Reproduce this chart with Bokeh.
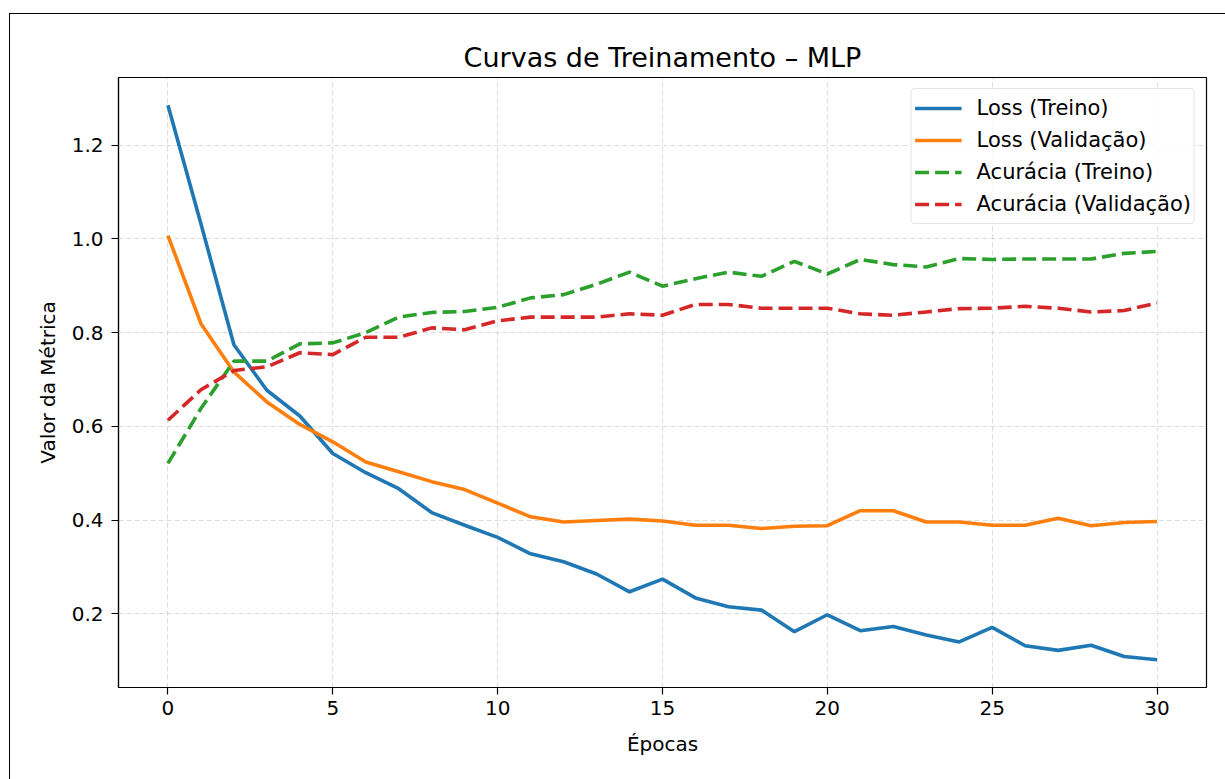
from bokeh.plotting import figure
from bokeh.models import Range1d, FixedTicker, Legend, LegendItem, PrintfTickFormatter, InlineStyleSheet
from bokeh.embed import file_html
from bokeh.resources import INLINE

epochs = list(range(31))
loss_treino = [1.285, 1.032, 0.774, 0.677, 0.622, 0.542, 0.501, 0.467, 0.416, 0.389,
               0.363, 0.328, 0.311, 0.285, 0.247, 0.274, 0.234, 0.215, 0.208, 0.162,
               0.198, 0.164, 0.173, 0.155, 0.140, 0.171, 0.132, 0.122, 0.133, 0.109, 0.102]
loss_val = [1.007, 0.819, 0.716, 0.652, 0.604, 0.567, 0.524, 0.503, 0.482, 0.465,
            0.436, 0.407, 0.396, 0.399, 0.402, 0.398, 0.389, 0.389, 0.382, 0.387,
            0.388, 0.420, 0.420, 0.396, 0.396, 0.389, 0.389, 0.404, 0.388, 0.395, 0.397]
acc_treino = [0.521, 0.638, 0.739, 0.739, 0.776, 0.778, 0.800, 0.833, 0.843, 0.845,
              0.854, 0.874, 0.881, 0.903, 0.929, 0.899, 0.915, 0.929, 0.920, 0.952,
              0.925, 0.956, 0.945, 0.940, 0.958, 0.956, 0.957, 0.957, 0.957, 0.969, 0.973]
acc_val = [0.613, 0.678, 0.719, 0.727, 0.757, 0.753, 0.790, 0.790, 0.810, 0.806,
           0.825, 0.833, 0.833, 0.833, 0.840, 0.837, 0.860, 0.860, 0.852, 0.852,
           0.852, 0.840, 0.837, 0.844, 0.851, 0.852, 0.856, 0.852, 0.844, 0.847, 0.863]

x_ticks = [0, 5, 10, 15, 20, 25, 30]
y_ticks = [0.2, 0.4, 0.6, 0.8, 1.0, 1.2]

FONT = "DejaVu Sans"

allv = loss_treino + loss_val + acc_treino + acc_val
lo, hi = min(allv), max(allv)
span = hi - lo
xspan = max(epochs) - min(epochs)

outer = InlineStyleSheet(css="""
:host::after {
  content: "";
  position: absolute;
  left: 9px; top: 13px; right: -20px; bottom: -20px;
  border: 1px solid #000000;
  pointer-events: none;
}
""")

p = figure(width=1225, height=779, output_backend="svg", toolbar_location=None,
           x_range=Range1d(min(epochs) - 0.05 * xspan, max(epochs) + 0.05 * xspan),
           y_range=Range1d(lo - 0.05 * span, hi + 0.05 * span),
           min_border_left=118, min_border_right=19, min_border_top=77, min_border_bottom=92,
           title="Curvas de Treinamento – MLP", stylesheets=[outer])

p.title.align = "center"
p.title.text_font = FONT
p.title.text_font_size = "27px"
p.title.text_font_style = "normal"
p.title.text_color = "#000000"
p.title.standoff = 9

p.outline_line_color = "#000000"
p.outline_line_width = 1.2
p.outline_line_alpha = 1.0

for ax in (p.xaxis[0], p.yaxis[0]):
    ax.axis_line_color = "#000000"
    ax.axis_line_width = 1.2
    ax.major_tick_line_color = "#000000"
    ax.major_tick_line_width = 1.2
    ax.major_tick_out = 7
    ax.major_tick_in = 0
    ax.minor_tick_line_color = None
    ax.major_label_text_font = FONT
    ax.major_label_text_font_size = "20px"
    ax.major_label_text_color = "#000000"
    ax.axis_label_text_font = FONT
    ax.axis_label_text_font_size = "20px"
    ax.axis_label_text_font_style = "normal"
    ax.axis_label_text_color = "#000000"

p.xaxis.ticker = FixedTicker(ticks=x_ticks)
p.yaxis.ticker = FixedTicker(ticks=y_ticks)
p.yaxis.formatter = PrintfTickFormatter(format="%.1f")
p.xaxis.axis_label = "Épocas"
p.yaxis.axis_label = "Valor da Métrica"
p.xaxis.major_label_standoff = 6
p.yaxis.major_label_standoff = 8
p.xaxis.axis_label_standoff = 14
p.yaxis.axis_label_standoff = 9

for g in (p.xgrid[0], p.ygrid[0]):
    g.grid_line_color = "#cfcfcf"
    g.grid_line_alpha = 0.7
    g.grid_line_dash = "5 3"
    g.grid_line_width = 1.1

r1 = p.line(epochs, loss_treino, line_color="#1f77b4", line_width=3.6)
r2 = p.line(epochs, loss_val, line_color="#ff7f0e", line_width=3.6)
r3 = p.line(epochs, acc_treino, line_color="#2ca02c", line_width=3.6, line_dash="14 6")
r4 = p.line(epochs, acc_val, line_color="#d62728", line_width=3.6, line_dash="14 6")

legend = Legend(items=[
    LegendItem(label="Loss (Treino)", renderers=[r1]),
    LegendItem(label="Loss (Validação)", renderers=[r2]),
    LegendItem(label="Acurácia (Treino)", renderers=[r3]),
    LegendItem(label="Acurácia (Validação)", renderers=[r4]),
], location="top_right")
legend.margin = 11
legend.padding = 3
legend.spacing = 0
legend.glyph_width = 47
legend.glyph_height = 32
legend.label_height = 32
legend.label_standoff = 15
legend.label_text_font = FONT
legend.label_text_font_size = "21px"
legend.label_text_color = "#000000"
legend.border_line_color = "#cccccc"
legend.border_line_width = 1.2
legend.border_radius = 4
legend.background_fill_alpha = 0.8
p.add_layout(legend)

open("out.html", "w").write(file_html(p, INLINE))
